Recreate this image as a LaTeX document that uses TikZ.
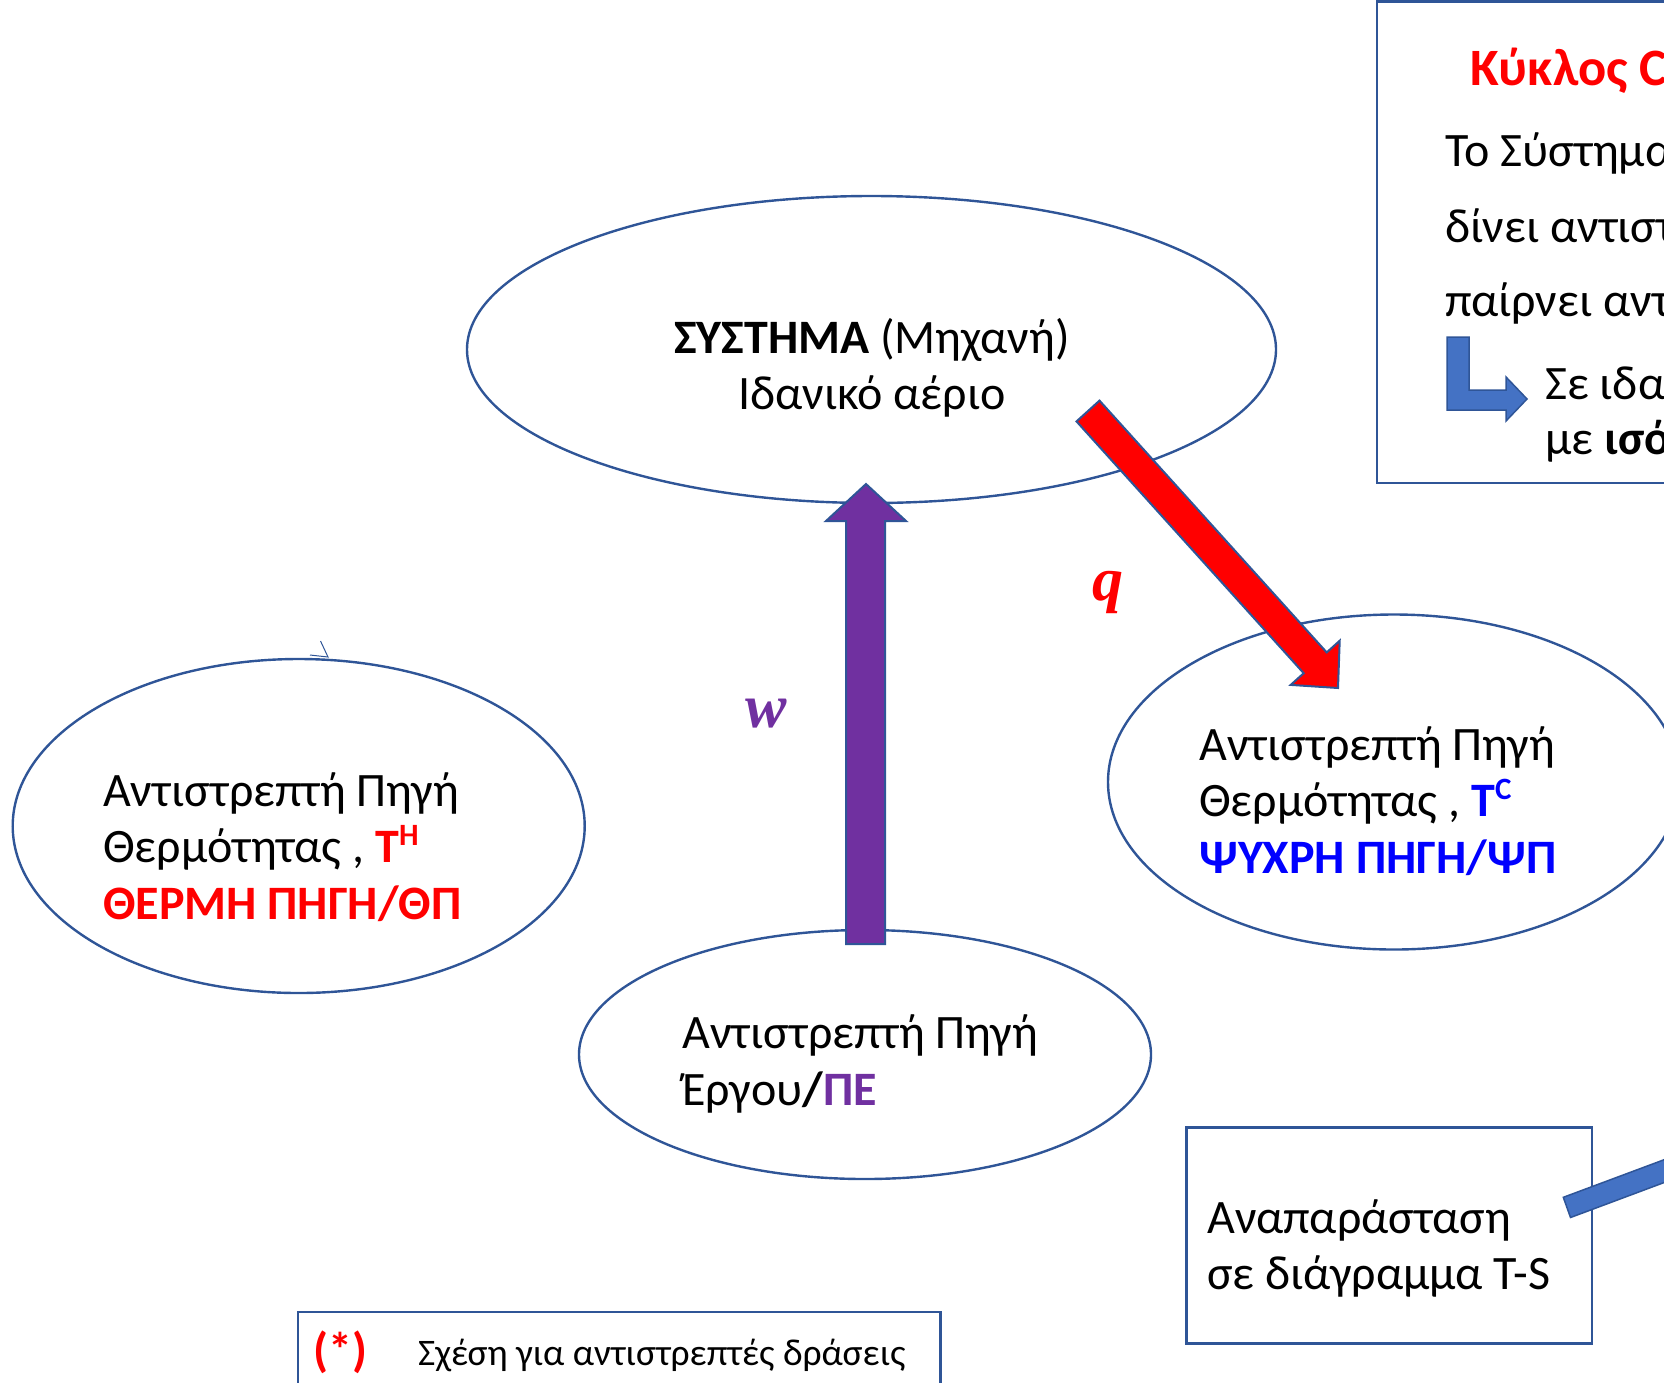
\documentclass[tikz,border=0pt]{standalone}
\usepackage{fontspec}
\setmainfont{Carlito}
\newfontfamily\serifbi{Liberation Serif}
\usetikzlibrary{shapes.geometric}

\definecolor{outline}{HTML}{2F5597}
\definecolor{fillblue}{HTML}{4472C4}
\definecolor{hotred}{HTML}{FF0000}
\definecolor{coldblue}{HTML}{0000FF}
\definecolor{workpurple}{HTML}{7030A0}

\newcommand{\bigtxt}{\fontsize{48}{56}\selectfont}
\newcommand{\smalltxt}{\fontsize{37.5}{42}\selectfont}
\newcommand{\supx}[1]{\raisebox{0.36em}{\fontsize{31}{31}\selectfont\bfseries #1}}

\tikzset{
  reservoir/.style={ellipse, draw=outline, line width=2.4pt, inner sep=0pt, outer sep=0pt},
  framebox/.style={draw=outline, line width=2.4pt},
  line/.style={anchor=base west, inner sep=0pt, font=\bigtxt},
  blockarrow/.style={draw=outline, line width=2pt, line join=miter},
  sym/.style={inner sep=0pt, font={\fontsize{62}{62}\selectfont\serifbi\bfseries\itshape}}
}

\begin{document}
\begin{tikzpicture}[x=1pt, y=-1pt]
\path[use as bounding box] (0,0) rectangle (1664,1382);
\clip (0,0) rectangle (1664,1382);

% reservoirs and the system
\node[reservoir, minimum width=809pt, minimum height=307pt] (sys) at (871.5,349.5) {};
\node[reservoir, minimum width=572pt, minimum height=334pt] (hot) at (298.7,826) {};
\node[reservoir, minimum width=572pt, minimum height=335pt] (cold) at (1394,782) {};
\node[reservoir, minimum width=572pt, minimum height=249pt] (work) at (865,1054.5) {};

% text of the system
\node[anchor=base, inner sep=0pt, font=\bigtxt] (sysA) at (872,353) {\textbf{ΣΥΣΤΗΜΑ} (Μηχανή)};
\node[anchor=base, inner sep=0pt, font=\bigtxt] (sysB) at (872,409.5) {Ιδανικό αέριο};

% hot reservoir text
\node[line] (hotA) at (103,806) {Αντιστρεπτή Πηγή};
\node[line] (hotB) at (103,862.5) {Θερμότητας , \textcolor{hotred}{\textbf{T}\supx{H}}};
\node[line] (hotC) at (103,919) {\textcolor{hotred}{\textbf{ΘΕΡΜΗ ΠΗΓΗ/ΘΠ}}};

% cold reservoir text
\node[line] (coldA) at (1199,760) {Αντιστρεπτή Πηγή};
\node[line] (coldB) at (1199,816.5) {Θερμότητας , \textcolor{coldblue}{\textbf{T}\supx{C}}};
\node[line] (coldC) at (1199,873) {\textcolor{coldblue}{\textbf{ΨΥΧΡΗ ΠΗΓΗ/ΨΠ}}};

% work reservoir text
\node[line] (workA) at (682,1048.5) {Αντιστρεπτή Πηγή};
\node[line] (workB) at (682,1105) {Έργου\textbf{/}\textcolor{workpurple}{\textbf{ΠΕ}}};

% small open tip on the hot reservoir
\coordinate (tipH) at (328,657);
\draw[outline, line width=1pt] (320.5,641) -- (tipH) -- (310,655);

% work flows from the work reservoir to the system
\filldraw[blockarrow, fill=workpurple]
  (846,944) -- (846,521) -- (826,521) -- (866,484) -- (906,521) -- (885,521) -- (885,944) -- cycle;
\node[sym, text=workpurple] (wlab) at (766,714) {w};

% heat flows from the system to the cold reservoir
\filldraw[blockarrow, fill=hotred]
  (1099.5,400.6) -- (1326.7,652.4) -- (1339.7,640.7) -- (1338,688)
  -- (1290.7,684.9) -- (1303.7,673.2) -- (1076.5,421.4) -- cycle;
\node[sym, text=hotred] (qlab) at (1108,592) {q};

% Carnot cycle panel
\draw[framebox] (1377,1.5) rectangle (1720,483);
\node[line, font={\fontsize{52.5}{56}\selectfont\bfseries}, text=hotred] (cyc) at (1470,85) {Κύκλος Carnot};
\node[line] (cycA) at (1445,166) {Το Σύστημα (Μηχανή)};
\node[line] (cycB) at (1445,242) {δίνει αντιστρεπτά};
\node[line] (cycC) at (1445,316) {παίρνει αντιστρεπτά};
\filldraw[draw=outline, line width=1.5pt, fill=fillblue, line join=miter]
  (1447,337) -- (1469,337) -- (1469,390) -- (1506,390) -- (1506,377) -- (1527,399)
  -- (1506,421) -- (1506,410) -- (1447,410) -- cycle;
\node[line] (cycD) at (1545,399) {Σε ιδανικό αέριο};
\node[line] (cycE) at (1545,454) {με \textbf{ισόθερμη}};

% T-S diagram box
\draw[framebox] (1186.5,1127.5) rectangle (1592,1343.5);
\node[line] (tsA) at (1207,1233) {Αναπαράσταση};
\node[line] (tsB) at (1207,1289) {σε διάγραμμα T-S};
\filldraw[draw=outline, line width=1.5pt, fill=fillblue]
  (1563.3,1197.3) -- (1700,1146.3) -- (1707.5,1166.3) -- (1570.5,1217.5) -- cycle;

% relation box
\draw[framebox] (298,1312) rectangle (940.5,1400);
\node[line, font={\fontsize{48}{56}\selectfont\bfseries}, text=hotred] (star) at (313,1366) {(*)};
\node[anchor=base west, inner sep=0pt, font=\smalltxt] (rel) at (418,1365) {Σχέση για αντιστρεπτές δράσεις};
\end{tikzpicture}
\end{document}
